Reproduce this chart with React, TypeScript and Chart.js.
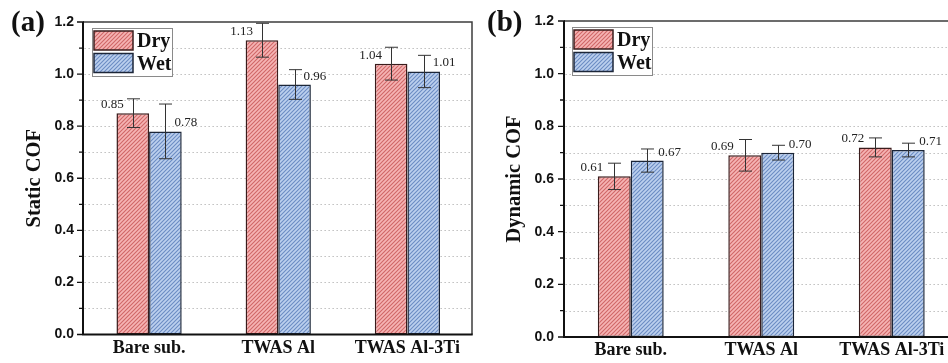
import React, { useEffect, useRef } from 'react';
import { Chart, registerables } from 'chart.js';

Chart.register(...registerables);

const categories = ['Bare sub.', 'TWAS Al', 'TWAS Al-3Ti'];
const seriesNames = ['Dry', 'Wet'];
const staticDry = [0.85, 1.13, 1.04];
const staticWet = [0.78, 0.96, 1.01];
const staticDryErr = [0.055, 0.065, 0.063];
const staticWetErr = [0.105, 0.057, 0.062];
const dynamicDry = [0.61, 0.69, 0.72];
const dynamicWet = [0.67, 0.7, 0.71];
const dynamicDryErr = [0.05, 0.06, 0.036];
const dynamicWetErr = [0.044, 0.028, 0.026];
const gridValues = [0.1, 0.2, 0.3, 0.4, 0.5, 0.6, 0.7, 0.8, 0.9, 1.0, 1.1];
const majorTicks = [0, 0.2, 0.4, 0.6, 0.8, 1.0, 1.2];
const minorTicks = [0.1, 0.3, 0.5, 0.7, 0.9, 1.1];

const SERIF = "'Liberation Serif', 'Times New Roman', serif";
const SANS = "'Liberation Sans', Arial, sans-serif";
const borderColors = ['#3a1c1c', '#1c2638'];

function makeHatch(bg: string, line: string) {
  const c = document.createElement('canvas');
  c.width = 4;
  c.height = 4;
  const g = c.getContext('2d')!;
  g.fillStyle = bg;
  g.fillRect(0, 0, 4, 4);
  g.strokeStyle = line;
  g.lineWidth = 1.1;
  g.beginPath();
  g.moveTo(-1, 5);
  g.lineTo(5, -1);
  g.moveTo(-1, 1);
  g.lineTo(1, -1);
  g.moveTo(3, 5);
  g.lineTo(5, 3);
  g.stroke();
  return g.createPattern(c, 'repeat');
}

const decorPlugin = {
  id: 'decor',
  beforeDatasetsDraw(chart: any, _args: any, opts: any) {
    const { ctx, chartArea: a, scales } = chart;
    const y = scales.y;
    ctx.save();
    ctx.strokeStyle = '#b5b5b5';
    ctx.lineWidth = 1;
    ctx.setLineDash([1.3, 2.7]);
    for (const v of gridValues) {
      const py = Math.round(y.getPixelForValue(v)) + 0.5;
      ctx.beginPath();
      ctx.moveTo(a.left, py);
      ctx.lineTo(a.right, py);
      ctx.stroke();
    }
    ctx.restore();
  },
  afterDatasetsDraw(chart: any, _args: any, opts: any) {
    const { ctx, chartArea: a, scales } = chart;
    const y = scales.y;
    const errs: number[][] = opts.errors;
    chart.data.datasets.forEach((ds: any, i: number) => {
      const meta = chart.getDatasetMeta(i);
      meta.data.forEach((bar: any, j: number) => {
        const v = ds.data[j];
        const e = errs[i][j];
        const x = Math.round(bar.x) + 0.5;
        const yt = y.getPixelForValue(v + e);
        const yb = y.getPixelForValue(v - e);
        ctx.save();
        ctx.strokeStyle = '#333';
        ctx.lineWidth = 1;
        ctx.beginPath();
        ctx.moveTo(x, yt);
        ctx.lineTo(x, yb);
        ctx.moveTo(x - 6.5, yt);
        ctx.lineTo(x + 6.5, yt);
        ctx.moveTo(x - 6.5, yb);
        ctx.lineTo(x + 6.5, yb);
        ctx.stroke();
        ctx.fillStyle = '#222';
        ctx.font = `13px ${SERIF}`;
        ctx.textBaseline = 'alphabetic';
        const top = bar.y;
        if (i === 0) {
          ctx.textAlign = 'right';
          ctx.fillText(v.toFixed(2), bar.x - opts.labelDx, top - 5);
        } else {
          ctx.textAlign = 'left';
          ctx.fillText(v.toFixed(2), bar.x + opts.labelDx, top - 5);
        }
        ctx.restore();
      });
    });

    ctx.save();
    const axX = a.left - 1.5;
    ctx.strokeStyle = '#3c3c3c';
    ctx.lineWidth = 1.5;
    ctx.beginPath();
    ctx.moveTo(axX, a.top);
    ctx.lineTo(a.right, a.top);
    ctx.lineTo(a.right, a.bottom);
    ctx.stroke();
    ctx.strokeStyle = '#111';
    ctx.lineWidth = 2;
    ctx.beginPath();
    ctx.moveTo(axX, a.top - 0.7);
    ctx.lineTo(axX, a.bottom + 1);
    ctx.moveTo(axX - 1, a.bottom);
    ctx.lineTo(a.right + 0.7, a.bottom);
    ctx.stroke();
    ctx.lineWidth = 1.3;
    ctx.beginPath();
    for (const v of majorTicks) {
      const py = y.getPixelForValue(v);
      ctx.moveTo(axX - 1, py);
      ctx.lineTo(axX - 6, py);
    }
    for (const v of minorTicks) {
      const py = y.getPixelForValue(v);
      ctx.moveTo(axX - 1, py);
      ctx.lineTo(axX - 4, py);
    }
    ctx.stroke();
    ctx.restore();

    ctx.save();
    const lx = a.left + opts.legendDx;
    const ly = a.top + 6;
    ctx.fillStyle = '#fff';
    ctx.fillRect(lx, ly, 80, 48);
    ctx.strokeStyle = '#8a8a8a';
    ctx.lineWidth = 1;
    ctx.strokeRect(lx + 0.5, ly + 0.5, 80, 48);
    chart.data.datasets.forEach((ds: any, i: number) => {
      const sy = ly + 3 + i * 22.5;
      ctx.fillStyle = ds.backgroundColor;
      ctx.fillRect(lx + 2, sy, 39, 19);
      ctx.strokeStyle = borderColors[i];
      ctx.lineWidth = 1.5;
      ctx.strokeRect(lx + 2, sy, 39, 19);
      ctx.fillStyle = '#111';
      ctx.font = `bold 20px ${SERIF}`;
      ctx.textAlign = 'left';
      ctx.textBaseline = 'alphabetic';
      ctx.fillText(ds.label, lx + 45, sy + 16);
    });
    ctx.restore();

    ctx.save();
    ctx.translate(opts.titleX, (a.top + a.bottom) / 2);
    ctx.rotate(-Math.PI / 2);
    ctx.fillStyle = '#111';
    ctx.font = `bold 20.5px ${SERIF}`;
    ctx.textAlign = 'center';
    ctx.textBaseline = 'alphabetic';
    ctx.fillText(opts.yTitle, 0, 0);
    ctx.restore();

    ctx.save();
    ctx.fillStyle = '#111';
    ctx.font = `bold 29px ${SERIF}`;
    ctx.textAlign = 'left';
    ctx.textBaseline = 'alphabetic';
    ctx.fillText(opts.panel, opts.panelX, 31);
    ctx.restore();
  },
};

type PanelProps = {
  width: number;
  height: number;
  left: number;
  dry: number[];
  wet: number[];
  dryErr: number[];
  wetErr: number[];
  plotLeft: number;
  plotRight: number;
  plotTop: number;
  plotBottom: number;
  yTitle: string;
  titleX: number;
  panel: string;
  panelX: number;
  labelDx: number;
  legendDx: number;
  tickPad: number;
};

function Panel(p: PanelProps) {
  const ref = useRef<HTMLCanvasElement>(null);
  useEffect(() => {
    const canvas = ref.current!;
    const redHatch = makeHatch('#f6b4b4', '#cf6767');
    const blueHatch = makeHatch('#bcd0ee', '#6b8cc2');
    const chart = new Chart(canvas, {
      type: 'bar',
      data: {
        labels: categories,
        datasets: [
          {
            label: seriesNames[0],
            data: p.dry,
            backgroundColor: redHatch as any,
            borderColor: borderColors[0],
            borderWidth: 1.5,
            borderSkipped: false,
            categoryPercentage: 0.505,
            barPercentage: 1,
          },
          {
            label: seriesNames[1],
            data: p.wet,
            backgroundColor: blueHatch as any,
            borderColor: borderColors[1],
            borderWidth: 1.5,
            borderSkipped: false,
            categoryPercentage: 0.505,
            barPercentage: 1,
          },
        ],
      },
      options: {
        responsive: false,
        animation: false,
        devicePixelRatio: 1,
        layout: {
          padding: { left: 0, top: p.plotTop, right: p.width - p.plotRight, bottom: 0 },
        },
        plugins: {
          legend: { display: false },
          tooltip: { enabled: false },
          decor: {
            errors: [p.dryErr, p.wetErr],
            yTitle: p.yTitle,
            titleX: p.titleX,
            panel: p.panel,
            panelX: p.panelX,
            labelDx: p.labelDx,
            legendDx: p.legendDx,
          },
        } as any,
        scales: {
          x: {
            offset: true,
            grid: { display: false, drawTicks: false },
            border: { display: false },
            ticks: {
              color: '#111',
              font: { family: SERIF, size: 18, weight: 'bold' },
              padding: 3,
              maxRotation: 0,
              autoSkip: false,
            },
            afterFit: (s: any) => {
              s.height = p.height - p.plotBottom;
            },
          },
          y: {
            min: 0,
            max: 1.2,
            grid: { display: false, drawTicks: false },
            border: { display: false },
            ticks: {
              stepSize: 0.2,
              color: '#111',
              font: { family: SANS, size: 14, weight: 'bold' },
              padding: p.tickPad,
              callback: (v: any) => Number(v).toFixed(1),
            },
            afterFit: (s: any) => {
              s.width = p.plotLeft;
            },
          },
        },
      },
      plugins: [decorPlugin],
    });
    return () => chart.destroy();
  }, []);
  return (
    <div style={{ position: 'absolute', left: p.left, top: 0, width: p.width, height: p.height }}>
      <canvas ref={ref} width={p.width} height={p.height} style={{ width: p.width, height: p.height, display: 'block' }} />
    </div>
  );
}

export default function App() {
  return (
    <div
      style={{
        position: 'fixed',
        left: 0,
        top: 0,
        width: 948,
        height: 363,
        overflow: 'hidden',
        background: '#fff',
      }}
    >
      <Panel
        width={480}
        height={363}
        left={0}
        dry={staticDry}
        wet={staticWet}
        dryErr={staticDryErr}
        wetErr={staticWetErr}
        plotLeft={84.5}
        plotRight={472}
        plotTop={22}
        plotBottom={334.5}
        yTitle="Static COF"
        titleX={39.5}
        panel="(a)"
        panelX={11}
        labelDx={9}
        legendDx={7.5}
        tickPad={10.5}
      />
      <Panel
        width={490}
        height={363}
        left={478}
        dry={dynamicDry}
        wet={dynamicWet}
        dryErr={dynamicDryErr}
        wetErr={dynamicWetErr}
        plotLeft={87.5}
        plotRight={479}
        plotTop={21}
        plotBottom={337}
        yTitle="Dynamic COF"
        titleX={41.5}
        panel="(b)"
        panelX={9}
        labelDx={11}
        legendDx={6.5}
        tickPad={11.5}
      />
    </div>
  );
}
